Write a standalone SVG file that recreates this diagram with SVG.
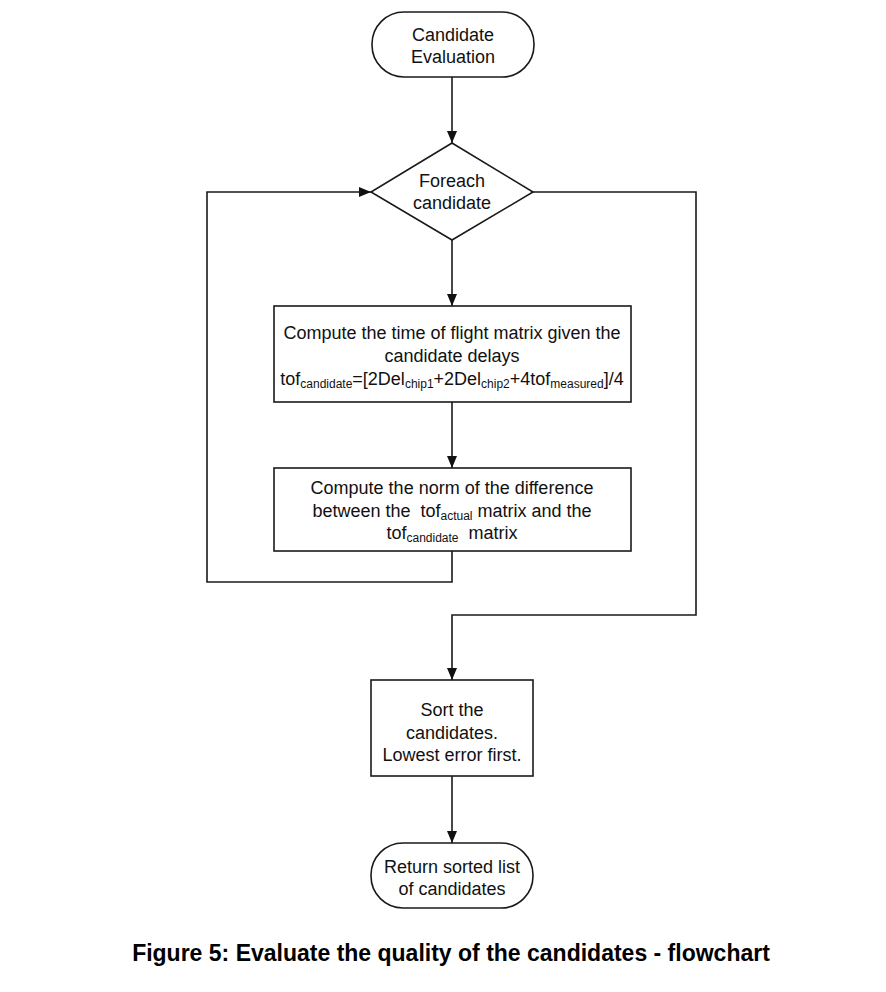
<svg xmlns="http://www.w3.org/2000/svg" width="886" height="992" viewBox="0 0 886 992">
  <style>
    .shape { fill: #ffffff; stroke: #1a1a1a; stroke-width: 1.6; }
    .wire { fill: none; stroke: #1a1a1a; stroke-width: 1.6; }
    .lbl { font-family: "Liberation Sans", Arial, sans-serif; font-size: 18px; fill: #111111; text-anchor: middle; }
    .sub { font-size: 12px; }
    .cap { font-family: "Liberation Sans", Arial, sans-serif; font-size: 23px; font-weight: bold; fill: #000000; text-anchor: middle; }
  </style>
  <defs>
    <marker id="arrow" viewBox="0 0 12 10" refX="12" refY="5" markerWidth="12" markerHeight="10" markerUnits="userSpaceOnUse" orient="auto">
      <path d="M0,0 L12,5 L0,10 Z" fill="#111111"/>
    </marker>
  </defs>
  <rect width="886" height="992" fill="#ffffff"/>

  <g id="connectors">
    <path class="wire" d="M452,77 V143" marker-end="url(#arrow)"/>
    <path class="wire" d="M452,240 V306" marker-end="url(#arrow)"/>
    <path class="wire" d="M452,402 V468" marker-end="url(#arrow)"/>
    <path class="wire" d="M452,551 V582 H207 V192 H371" marker-end="url(#arrow)"/>
    <path class="wire" d="M533,192 H696 V615 H452 V680" marker-end="url(#arrow)"/>
    <path class="wire" d="M452,776 V843" marker-end="url(#arrow)"/>
  </g>

  <g id="start">
    <rect class="shape" x="372" y="12" width="162" height="65" rx="32" ry="32"/>
    <text class="lbl" x="453" y="41">Candidate</text>
    <text class="lbl" x="453" y="63">Evaluation</text>
  </g>

  <g id="foreach">
    <polygon class="shape" points="452,143 533,192 452,240 371,192"/>
    <text class="lbl" x="452" y="187">Foreach</text>
    <text class="lbl" x="452" y="209">candidate</text>
  </g>

  <g id="compute-tof">
    <rect class="shape" x="274" y="306" width="357" height="96"/>
    <text class="lbl" x="452" y="339">Compute the time of flight matrix given the</text>
    <text class="lbl" x="452" y="362">candidate delays</text>
    <text class="lbl" x="452" y="385">tof<tspan class="sub" dy="3">candidate</tspan><tspan dy="-3">=[2Del</tspan><tspan class="sub" dy="3">chip1</tspan><tspan dy="-3">+2Del</tspan><tspan class="sub" dy="3">chip2</tspan><tspan dy="-3">+4tof</tspan><tspan class="sub" dy="3">measured</tspan><tspan dy="-3">]/4</tspan></text>
  </g>

  <g id="compute-norm">
    <rect class="shape" x="274" y="468" width="357" height="83"/>
    <text class="lbl" x="452" y="494">Compute the norm of the difference</text>
    <text class="lbl" x="452" y="517">between the&#160; tof<tspan class="sub" dy="3">actual</tspan><tspan dy="-3"> matrix and the</tspan></text>
    <text class="lbl" x="452" y="539">tof<tspan class="sub" dy="3">candidate</tspan><tspan dy="-3">&#160; matrix</tspan></text>
  </g>

  <g id="sort">
    <rect class="shape" x="371" y="680" width="162" height="96"/>
    <text class="lbl" x="452" y="716">Sort the</text>
    <text class="lbl" x="452" y="739">candidates.</text>
    <text class="lbl" x="452" y="761">Lowest error first.</text>
  </g>

  <g id="end">
    <rect class="shape" x="371" y="843" width="162" height="65" rx="32" ry="32"/>
    <text class="lbl" x="452" y="873">Return sorted list</text>
    <text class="lbl" x="452" y="895">of candidates</text>
  </g>

  <text class="cap" x="451" y="961">Figure 5: Evaluate the quality of the candidates - flowchart</text>
</svg>
